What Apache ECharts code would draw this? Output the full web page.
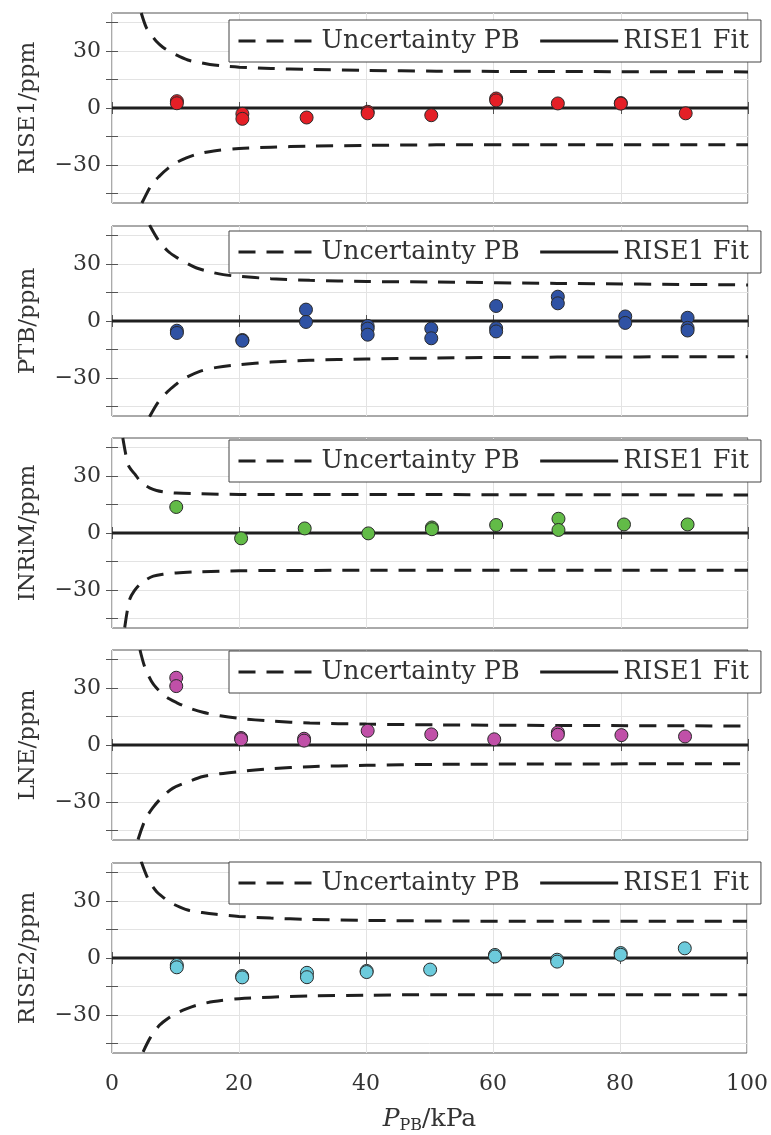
<!DOCTYPE html>
<html>
<head>
<meta charset="utf-8">
<script src="https://cdn.jsdelivr.net/npm/echarts@6/dist/echarts.min.js"></script>
<style>
html,body{margin:0;padding:0;background:#fff;}
#chart{width:771px;height:1135px;}
</style>
</head>
<body>
<div id="chart"></div>
<script>
// ---------- data ----------
const labs = ['RISE1', 'PTB', 'INRiM', 'LNE', 'RISE2'];
const xTicks = [0, 20, 40, 60, 80, 100];
const yTickLabels = [-30, 0, 30];
const yTicks = [-45, -30, -15, 0, 15, 30, 45];

const rise1X = [10.2, 10.2, 20.5, 20.5, 30.6, 40.2, 40.2, 50.2, 60.4, 60.4, 70.1, 80.0, 80.0, 90.2];
const rise1Y = [3.6, 2.5, -3.1, -5.7, -5.0, -2.0, -2.8, -3.8, 5.0, 4.0, 2.4, 2.6, 2.3, -2.8];

const ptbX = [10.2, 10.2, 20.5, 20.5, 30.5, 30.5, 40.2, 40.2, 40.2, 50.2, 50.2, 60.4, 60.4, 60.4, 70.1, 70.1, 80.7, 80.7, 90.5, 90.5, 90.5];
const ptbY = [-5.1, -6.3, -10.0, -10.4, 6.0, -0.5, -2.6, -4.0, -7.2, -4.0, -9.1, 7.9, -3.8, -5.5, 12.8, 9.3, 2.4, -1.0, 1.7, -3.6, -5.0];

const inrimX = [10.1, 20.3, 30.3, 40.3, 50.3, 50.3, 60.4, 70.2, 70.2, 80.5, 90.5];
const inrimY = [13.7, -2.8, 2.4, -0.2, 2.9, 2.0, 4.2, 7.5, 1.6, 4.5, 4.5];

const lneX = [10.1, 10.1, 20.3, 20.3, 30.2, 30.2, 40.2, 50.2, 60.1, 70.1, 70.1, 80.1, 90.1];
const lneY = [35.4, 31.0, 3.7, 3.0, 3.3, 2.3, 7.5, 5.6, 3.0, 6.6, 5.4, 5.2, 4.5];

const rise2X = [10.2, 10.2, 20.5, 20.5, 30.7, 30.7, 40.1, 40.1, 50.1, 60.3, 60.3, 70.1, 70.1, 80.1, 80.1, 90.2];
const rise2Y = [-3.7, -4.9, -9.5, -10.2, -7.8, -10.1, -6.8, -7.4, -6.1, 1.6, 0.8, -0.9, -1.9, 2.6, 1.7, 5.1];

// uncertainty bands
const up1X = [4.6, 5.4, 6.2, 7.0, 8.0, 9.3, 10.5, 12.2, 14, 15.4, 17.5, 20, 25, 31.1, 40, 51, 70, 100];
const up1Y = [50, 42.3, 38.5, 35, 32, 29.3, 27.3, 25, 23.8, 22.9, 22.1, 21.5, 20.8, 20.3, 19.8, 19.4, 19.2, 19.0];
const lo1X = [4.7, 4.9, 6.2, 7.5, 8.8, 10.1, 11.7, 13.3, 16, 20, 25, 31, 40, 51, 70, 100];
const lo1Y = [-50, -48.7, -40.5, -35.7, -31.8, -28.8, -26.3, -24.4, -22.6, -21.3, -20.6, -20.1, -19.7, -19.4, -19.3, -19.3];

const up2X = [5.9, 7.3, 8.8, 10, 11.2, 13.3, 15.5, 17.5, 20, 25, 31.1, 40, 51, 70, 100];
const up2Y = [50.5, 42.5, 36.7, 33.8, 31.4, 27.9, 25.8, 24.4, 23.5, 22.3, 21.4, 20.8, 20.5, 19.8, 19.0];
const lo2X = [5.9, 7.3, 8.8, 10, 11, 13.8, 16.5, 20, 25, 31, 40, 51, 70, 100];
const lo2Y = [-50.4, -42.5, -37, -33.5, -30.9, -26.5, -24.4, -23.0, -21.6, -20.7, -20.0, -19.5, -19.0, -18.8];

const up3X = [1.7, 2.1, 2.5, 3.0, 3.6, 4.2, 4.9, 5.9, 7.0, 8.5, 10.1, 14, 20, 30, 51, 100];
const up3Y = [50, 42.5, 36.2, 33.3, 31.0, 28.2, 25.8, 23.8, 22.4, 21.5, 21.0, 20.6, 20.3, 20.2, 20.2, 20.0];
const lo3X = [2.0, 2.4, 2.8, 3.5, 4.4, 5.4, 6.5, 8, 10.1, 14, 20, 30, 51, 100];
const lo3Y = [-49.7, -41, -34.8, -30.5, -27, -24.5, -22.7, -21.7, -21, -20.4, -19.9, -19.7, -19.6, -19.6];

const up4X = [4.4, 5.2, 6.2, 7.0, 8.0, 9.0, 10.1, 12, 14.3, 17, 20, 25, 31.1, 40, 51, 70, 100];
const up4Y = [50, 40.5, 33.6, 30, 26.7, 24.3, 22.4, 19.6, 17.2, 15.4, 14.0, 12.6, 11.6, 11.0, 10.6, 10.3, 10.0];
const lo4X = [4.1, 5.2, 6.4, 8.0, 9.6, 12, 14.3, 17, 20, 25, 31.1, 40, 51, 70, 100];
const lo4Y = [-49.7, -39.5, -33.1, -27, -22.7, -19.3, -16.6, -15.1, -14.0, -12.5, -11.4, -10.7, -10.2, -10.0, -9.8];

const up5X = [4.6, 5.7, 7.0, 8.2, 9.3, 10.7, 12.2, 14.2, 16.4, 20, 25, 31.1, 40, 51, 70, 100];
const up5Y = [50.8, 41.5, 35, 31.6, 29, 26.8, 25, 23.9, 23, 21.9, 21, 20.3, 19.8, 19.5, 19.3, 19.3];
const lo5X = [4.9, 6.1, 7.5, 8.8, 10.1, 11.7, 13.3, 16, 20, 25, 31.1, 40, 51, 70, 100];
const lo5Y = [-49.4, -41.5, -35.3, -31.8, -29.2, -26.8, -24.9, -22.9, -21.4, -20.6, -20.0, -19.6, -19.3, -19.3, -19.3];

const fitX = [0, 100];
const fitY = [0, 0];

const ptsX = [rise1X, ptbX, inrimX, lneX, rise2X];
const ptsY = [rise1Y, ptbY, inrimY, lneY, rise2Y];
const upX = [up1X, up2X, up3X, up4X, up5X];
const upY = [up1Y, up2Y, up3Y, up4Y, up5Y];
const loX = [lo1X, lo2X, lo3X, lo4X, lo5X];
const loY = [lo1Y, lo2Y, lo3Y, lo4Y, lo5Y];

const colors = ['#e41f26', '#2f52a4', '#62bb47', '#c050a8', '#6ccbdc'];

// ---------- layout ----------
const FONT = 'DejaVu Serif';
const TXT = '#333333';
const gridTops = [13, 226, 438, 650, 863];
const legendTops = [20, 231, 440, 651, 862];
const zip = (xs, ys) => xs.map((x, i) => [x, ys[i]]);

const grid = [], xAxis = [], yAxis = [], series = [], legend = [];
labs.forEach((lab, i) => {
  grid.push({ left: 112, right: 23, top: gridTops[i], height: 190, show: true,
    borderColor: '#555', borderWidth: 1, containLabel: false });
  const last = i === labs.length - 1;
  xAxis.push({ type: 'value', gridIndex: i, min: 0, max: 100, interval: 20, position: 'bottom',
    axisLine: { show: false }, axisTick: { show: true, inside: true, length: 6, lineStyle: { color: '#555' } },
    axisLabel: { show: last, fontFamily: FONT, fontSize: 22, color: TXT, margin: 20,
      formatter: v => xTicks.includes(v) ? String(v) : '' },
    splitLine: { show: true, lineStyle: { color: '#e3e3e3', width: 1 } },
    name: last ? '{i|P}{s|PB}{n|/kPa}' : '', nameLocation: 'middle', nameGap: 51,
    nameTextStyle: { fontFamily: FONT, color: TXT, rich: {
      i: { fontFamily: FONT, fontStyle: 'italic', fontSize: 25, color: TXT, lineHeight: 30, verticalAlign: 'middle' },
      s: { fontFamily: FONT, fontSize: 16, color: TXT, lineHeight: 30, verticalAlign: 'bottom' },
      n: { fontFamily: FONT, fontSize: 25, color: TXT, lineHeight: 30, verticalAlign: 'middle' } } }
  });
  xAxis.push({ type: 'value', gridIndex: i, min: 0, max: 100, interval: 20, position: 'top',
    axisLine: { show: false }, axisTick: { show: true, inside: true, length: 6, lineStyle: { color: '#555' } },
    axisLabel: { show: false }, splitLine: { show: false } });
  yAxis.push({ type: 'value', gridIndex: i, min: -50, max: 50, position: 'left',
    axisLine: { show: false },
    axisTick: { show: true, inside: true, length: 6, customValues: yTicks, lineStyle: { color: '#555' } },
    axisLabel: { show: true, customValues: yTickLabels, fontFamily: FONT, fontSize: 22, color: TXT, margin: 11,
      formatter: v => (v < 0 ? '\u2212' + Math.abs(v) : String(v)) },
    splitLine: { show: true, lineStyle: { color: '#e3e3e3', width: 1 } },
    name: lab + '/ppm', nameLocation: 'middle', nameGap: 72, nameRotate: 90,
    nameTextStyle: { fontFamily: FONT, fontSize: 23, color: TXT }
  });
  yAxis.push({ type: 'value', gridIndex: i, min: -50, max: 50, position: 'right',
    axisLine: { show: false },
    axisTick: { show: true, inside: true, length: 6, customValues: yTicks, lineStyle: { color: '#555' } },
    axisLabel: { show: false }, splitLine: { show: false } });

  const xi = 2 * i, yi = 2 * i;
  const dash = { color: '#1f1f1f', width: 3, type: [17, 11] };
  const bandCommon = { type: 'line', xAxisIndex: xi, yAxisIndex: yi, showSymbol: false, symbol: 'none',
    smooth: 0.3, lineStyle: dash, itemStyle: { color: '#1f1f1f' }, clip: true, silent: true };
  series.push(Object.assign({ name: 'Uncertainty PB', data: zip(upX[i], upY[i]) }, bandCommon));
  series.push(Object.assign({ name: 'Uncertainty PB', data: zip(loX[i], loY[i]) }, bandCommon));
  series.push({ name: 'RISE1 Fit', type: 'line', xAxisIndex: xi, yAxisIndex: yi,
    data: zip(fitX, fitY), showSymbol: false, symbol: 'none', itemStyle: { color: '#1f1f1f' },
    lineStyle: { color: '#1f1f1f', width: 3, type: 'solid' }, silent: true });
  series.push({ name: lab, type: 'scatter', xAxisIndex: xi, yAxisIndex: yi,
    data: zip(ptsX[i], ptsY[i]), symbol: 'circle', symbolSize: 13,
    itemStyle: { color: colors[i], borderColor: '#2a2a2a', borderWidth: 1, opacity: 1 }, z: 5 });

  legend.push({ left: 229, top: legendTops[i], orient: 'horizontal',
    data: ['Uncertainty PB', 'RISE1 Fit'], selectedMode: false,
    backgroundColor: '#fff', borderColor: '#444', borderWidth: 1,
    padding: [8, 12, 8, 8], itemWidth: 78, itemHeight: 14, itemGap: 19,
    itemStyle: { opacity: 0 },
    lineStyle: { width: 3, color: '#1f1f1f' },
    textStyle: { fontFamily: FONT, fontSize: 25.5, color: TXT, lineHeight: 25 }, z: 10 });
});

const chart = echarts.init(document.getElementById('chart'), null, { renderer: 'canvas' });
chart.setOption({ animation: false, backgroundColor: '#fff', grid, xAxis, yAxis, series, legend });
</script>
</body>
</html>
